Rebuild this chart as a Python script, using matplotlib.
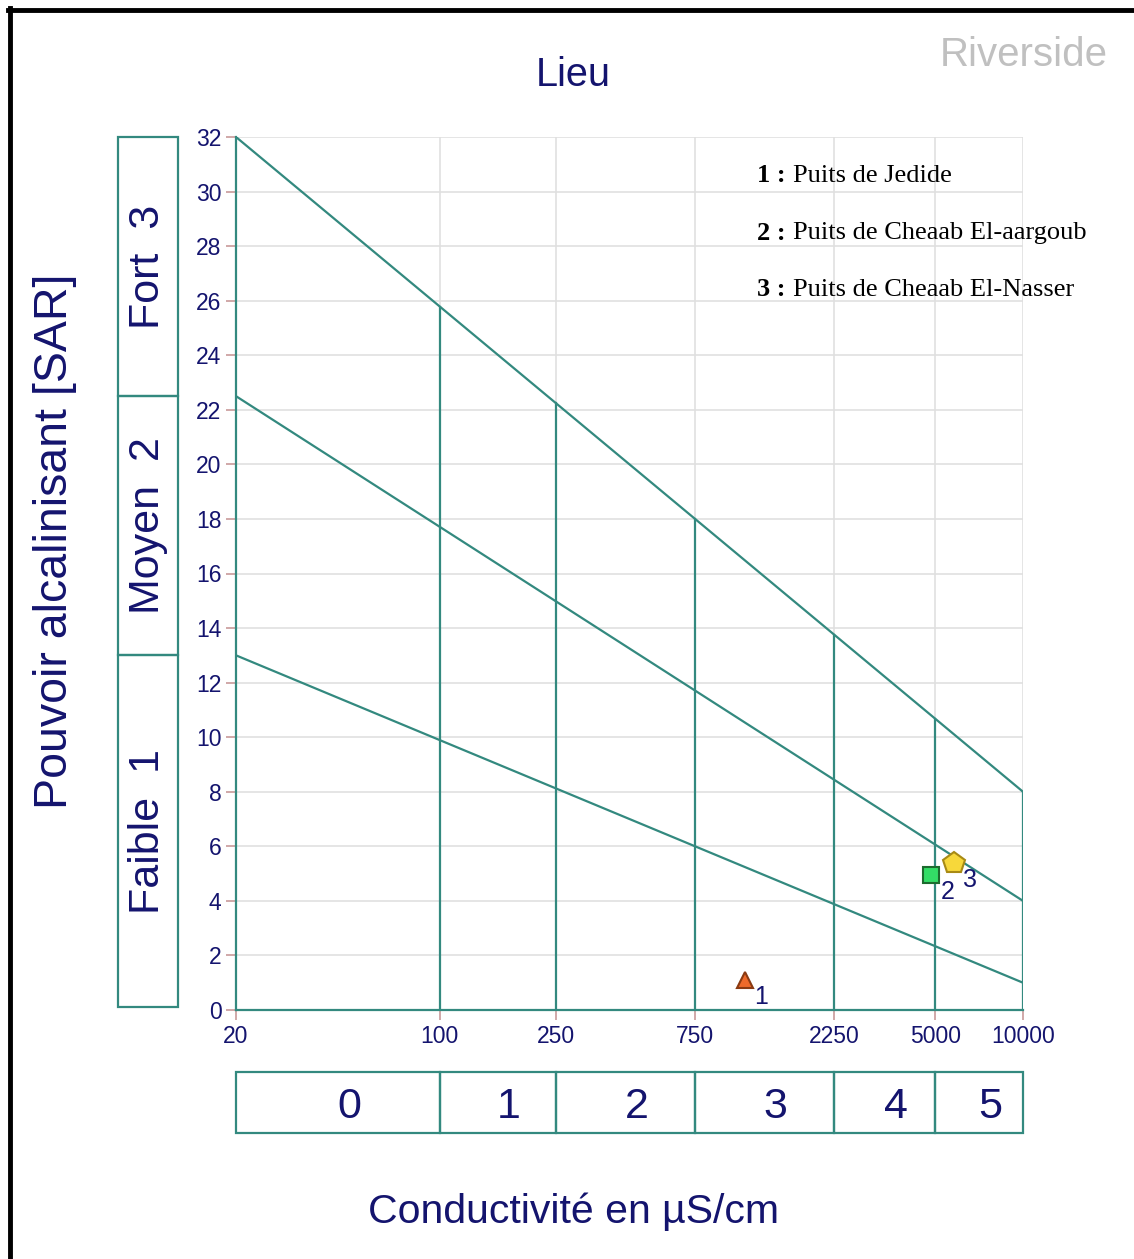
import numpy as np
import matplotlib
matplotlib.use('Agg')  # no GUI
import matplotlib.pyplot as plt
from matplotlib.lines import Line2D
import matplotlib.transforms as mtransforms

# Class limits (conductivity, uS/cm) and the three SAR boundary lines
ec_limits = [20, 100, 250, 750, 2250, 5000, 10000]
ec_classes = ['0', '1', '2', '3', '4', '5']
sar_top = [32, 8]      # at 20 and 10000
sar_mid = [22.5, 4]
sar_low = [13, 1]

sar_limits = [0, 13, 22.5, 32]
sar_classes = ['Faible  1', 'Moyen  2', 'Fort  3']

# Samples
ids = ['1', '2', '3']
ec_vals = [1110, 4850, 5800]
sar_vals = [1.1, 4.95, 5.4]
markers = ['^', 's', 'p']
fills = ['#ee6a2a', '#33dd66', '#f7d83a']
edges = ['#8a3a12', '#1d6b2e', '#a88a14']
sizes = [12, 11, 16]
names = ['Puits de Jedide', 'Puits de Cheaab El-aargoub', 'Puits de Cheaab El-Nasser']

teal = '#33897f'
navy = '#14146e'
W, H = 1134, 1259

fig = plt.figure(figsize=(W / 100, H / 100), dpi=100)
fig.patch.set_facecolor('white')

def fx(px):
    return px / W

def fy(py):
    return 1 - py / H

# main axes
ax = fig.add_axes([fx(236), fy(1010), fx(1023) - fx(236), fy(137) - fy(1010)])
ax.set_xscale('log')
ax.set_xlim(20, 10000)
ax.set_ylim(0, 32)
ax.set_xticks(ec_limits)
ax.set_xticklabels([str(v) for v in ec_limits])
ax.xaxis.set_minor_locator(matplotlib.ticker.NullLocator())
ax.set_yticks(np.arange(0, 33, 2))
ax.tick_params(axis='both', colors='#c89a9a', labelcolor=navy, labelsize=16.5,
               length=7, width=1.2, labelfontfamily='Liberation Sans')
ax.tick_params(axis='x', pad=4)
ax.grid(True, color='#e0e0e0', linewidth=1.2)
ax.set_axisbelow(True)
for s in ['top', 'right']:
    ax.spines[s].set_visible(False)
for s in ['left', 'bottom']:
    ax.spines[s].set_color(teal)
    ax.spines[s].set_linewidth(1.6)

# boundary lines (straight in log-x)
x_ends = [ec_limits[0], ec_limits[-1]]
for ys in [sar_top, sar_mid, sar_low]:
    ax.plot(x_ends, ys, color=teal, lw=1.6, zorder=2)

# vertical class limits up to the top line
lx0, lx1 = np.log10(x_ends[0]), np.log10(x_ends[1])
for x in ec_limits[1:]:
    t = (np.log10(x) - lx0) / (lx1 - lx0)
    ytop = sar_top[0] + t * (sar_top[1] - sar_top[0])
    ax.plot([x, x], [0, ytop], color=teal, lw=1.6, zorder=2)

# samples
lab_off = mtransforms.offset_copy(ax.transData, fig=fig, x=16, y=-17, units='dots')
for i in range(len(ids)):
    ax.plot(ec_vals[i], sar_vals[i], marker=markers[i], ms=sizes[i],
            mfc=fills[i], mec=edges[i], mew=1.5, ls='none', zorder=5, clip_on=False)
    ax.text(ec_vals[i], sar_vals[i], ids[i], transform=lab_off, color=navy,
            fontsize=18, ha='center', va='center', family='Liberation Sans', zorder=6)

# legend text (serif, bold number)
for i, name in enumerate(names):
    ypx = 176 + 57 * i
    fig.text(fx(757), fy(ypx), ids[i] + ' :', fontsize=19, fontweight='bold',
             family='Liberation Serif', va='center', ha='left', color='black')
    fig.text(fx(793), fy(ypx), name, fontsize=19, family='Liberation Serif',
             va='center', ha='left', color='black')

# left SAR class boxes
axl = fig.add_axes([fx(118), fy(1010), fx(178) - fx(118), fy(137) - fy(1010)])
axl.set_xlim(0, 1)
axl.set_ylim(0, 32)
axl.axis('off')
for i in range(len(sar_classes)):
    y0 = max(sar_limits[i], 0.1)
    y1 = sar_limits[i + 1]
    axl.add_patch(plt.Rectangle((0, y0), 1, y1 - y0, fill=False, ec=teal, lw=1.6,
                                clip_on=False))
    axl.text(0.5, (y0 + y1) / 2, sar_classes[i], rotation=90, ha='center', va='center',
             fontsize=31, color=navy, family='Liberation Sans')

# bottom conductivity class boxes
axb = fig.add_axes([fx(236), fy(1133), fx(1023) - fx(236), fy(1072) - fy(1133)])
axb.set_xscale('log')
axb.set_xlim(20, 10000)
axb.set_ylim(0, 1)
axb.axis('off')
box_off = mtransforms.offset_copy(axb.transData, fig=fig, x=11, y=-4, units='dots')
for i in range(len(ec_classes)):
    a, b = ec_limits[i], ec_limits[i + 1]
    axb.add_patch(plt.Rectangle((a, 0), b - a, 1, fill=False, ec=teal, lw=1.6,
                                clip_on=False))
    axb.text(np.sqrt(a * b), 0.5, ec_classes[i], transform=box_off, ha='center',
             va='center', fontsize=31, color=navy, family='Liberation Sans')

# titles
fig.text(fx(573), fy(75), 'Lieu', fontsize=28.5, color=navy, ha='center', va='center',
         family='Liberation Sans')
fig.text(fx(1108), fy(55), 'Riverside', fontsize=29, color='#c0c0c0', ha='right',
         va='center', family='Liberation Sans')
fig.text(fx(55), fy(541), 'Pouvoir alcalinisant [SAR]', fontsize=33.5, color=navy,
         rotation=90, ha='center', va='center', family='Liberation Sans')
fig.text(fx(574), fy(1212), 'Conductivité en µS/cm', fontsize=29.5, color=navy,
         ha='center', va='center', family='Liberation Sans')

# frame (left and top only, as in the original)
fig.add_artist(Line2D([fx(10), fx(10)], [fy(8), 0], color='black', lw=3.5,
                      transform=fig.transFigure))
fig.add_artist(Line2D([fx(8), 1], [fy(10), fy(10)], color='black', lw=3.5,
                      transform=fig.transFigure))

plt.savefig('out.png', dpi=100)
plt.close(fig)
